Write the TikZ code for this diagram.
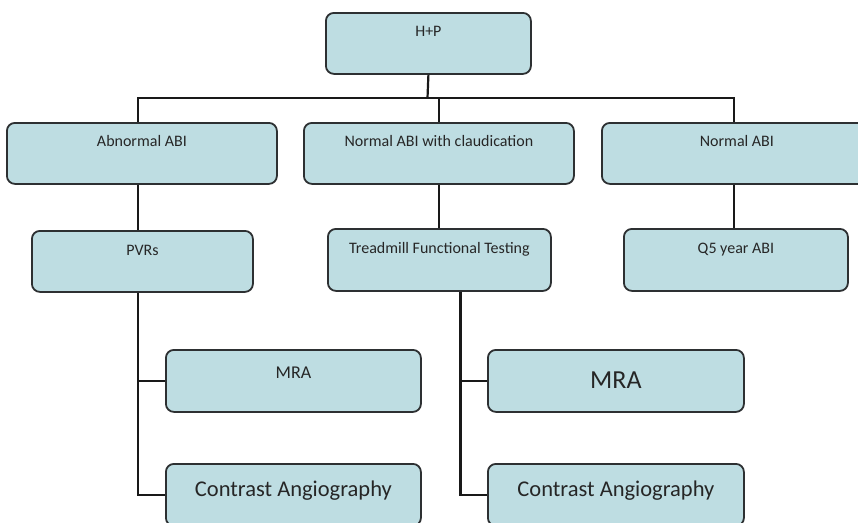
\documentclass[tikz,border=0pt]{standalone}
\usepackage{fontspec}
\setmainfont{Carlito}
\definecolor{boxfill}{RGB}{190,221,226}
\definecolor{boxline}{RGB}{45,48,50}
\definecolor{linkline}{RGB}{25,25,25}
\definecolor{labeltext}{RGB}{38,38,38}
\tikzset{
	box/.style={draw=boxline, fill=boxfill, line width=1.8pt, rounded corners=8pt,
		anchor=north west, inner sep=0pt, align=center, text=labeltext,
		font=\fontsize{16}{19}\selectfont, text height=24pt, text depth=37pt},
	link/.style={draw=linkline, line width=2.2pt}
}
\begin{document}
\begin{tikzpicture}[x=1pt, y=-1pt]
	\useasboundingbox (0,0) rectangle (858,522);

	% top level
	\node[box, minimum width=205pt] (hp) at (325,12) {H+P};
	\node[box, minimum width=270pt] (abn) at (6,122) {Abnormal ABI};
	\node[box, minimum width=270pt] (claud) at (303,122) {Normal ABI with claudication};
	\node[box, minimum width=270pt] (nabi) at (601,122) {Normal ABI};

	% second level
	\node[box, minimum width=221pt, text height=25pt, text depth=36pt] (pvr) at (31,230) {PVRs};
	\node[box, minimum width=223pt, text height=25pt, text depth=37pt] (tm) at (327,228) {Treadmill Functional Testing};
	\node[box, minimum width=224pt, text height=25pt, text depth=37pt] (q5) at (623,228) {Q5 year ABI};

	% imaging
	\node[box, minimum width=255pt, text height=29pt, text depth=33pt,
		font=\fontsize{18}{21}\selectfont] (mraA) at (165,349) {MRA};
	\node[box, minimum width=255pt, text height=33pt, text depth=29pt,
		font=\fontsize{22.5}{26}\selectfont] (angA) at (165,463) {Contrast Angiography};
	\node[box, minimum width=256pt, text height=39pt, text depth=23pt,
		font=\fontsize{26}{30}\selectfont] (mraB) at (487,349) {MRA};
	\node[box, minimum width=256pt, text height=33pt, text depth=29pt,
		font=\fontsize{22.5}{26}\selectfont] (angB) at (487,463) {Contrast Angiography};

	% connectors
	\coordinate (bus) at (427.5,98);
	\coordinate (lcol) at (138,0);
	\coordinate (rcol) at (734,0);
	\draw[link] (hp.south) -- (bus);
	\draw[link] (lcol |- abn.north) |- (bus) -| (rcol |- nabi.north);
	\draw[link] (claud.north |- bus) -- (claud.north);

	\draw[link] (lcol |- abn.south) -- (lcol |- pvr.north);
	\draw[link] (claud.south) -- (claud.south |- tm.north);
	\draw[link] (rcol |- nabi.south) -- (rcol |- q5.north);

	\draw[link] (lcol |- pvr.south) |- (mraA.west);
	\draw[link] (lcol |- pvr.south) |- (angA.west);
	\draw[link] ([xshift=21pt]tm.south) |- (mraB.west);
	\draw[link] ([xshift=21pt]tm.south) |- (angB.west);
\end{tikzpicture}
\end{document}
